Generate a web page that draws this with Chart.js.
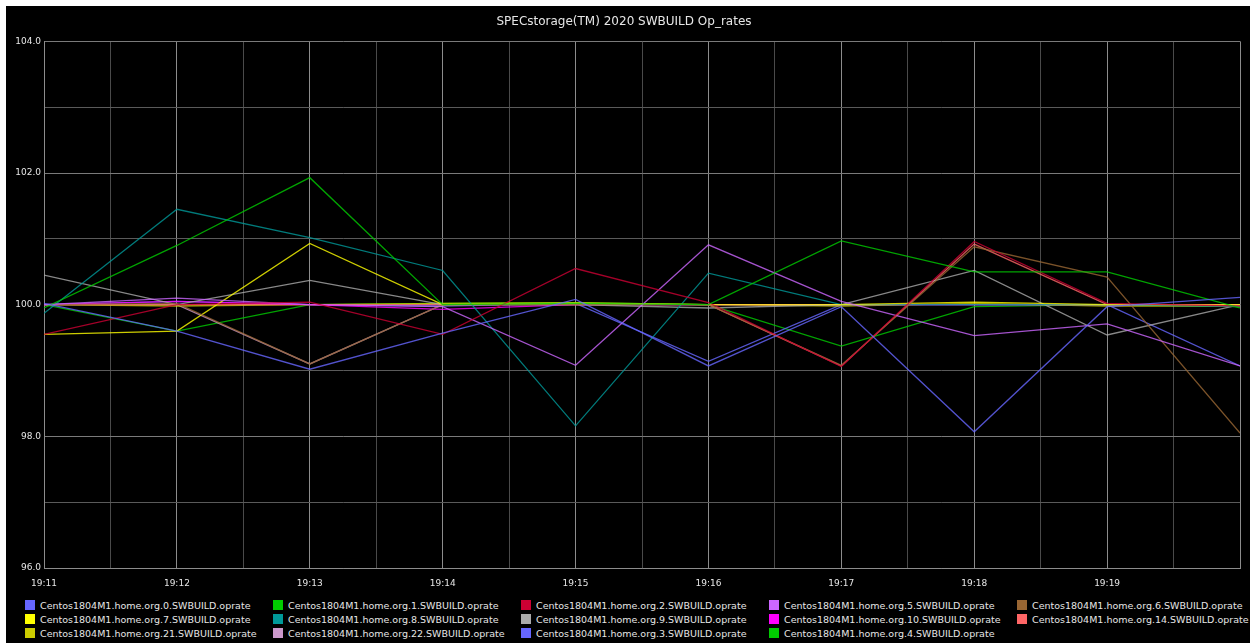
<!DOCTYPE html>
<html>
<head>
<meta charset="utf-8">
<script src="https://cdn.jsdelivr.net/npm/chart.js@4/dist/chart.umd.min.js"></script>
<style>
  body { margin: 0; background: #fff; }
  #frame { position: absolute; left: 6px; top: 6px; width: 1244px; height: 637px; background: #000; }
  #box { position: absolute; left: 0; top: 0; width: 1244px; height: 584px; }
  #legend {
    position: absolute; left: 19px; top: 592px;
    display: grid; grid-template-columns: repeat(5, 248px); grid-auto-rows: 14px;
    font: 9.5px "DejaVu Sans", sans-serif; color: #e6e6e6;
  }
  #legend div { display: flex; align-items: center; white-space: nowrap; }
  #legend span.sw { width: 10px; height: 10px; margin-right: 5px; flex: none; }
</style>
</head>
<body>
<div id="frame">
  <div id="box"><canvas id="myChart"></canvas></div>
  <div id="legend"></div>
</div>
<script>
var title = 'SPECstorage(TM) 2020 SWBUILD Op_rates';
var tickLabels = ['19:11', '19:12', '19:13', '19:14', '19:15', '19:16', '19:17', '19:18', '19:19'];

var names = ['org.0', 'org.1', 'org.2', 'org.5', 'org.6', 'org.7', 'org.8', 'org.9',
             'org.10', 'org.14', 'org.21', 'org.22', 'org.3', 'org.4'];
var colors = ['#6666ff', '#00cc00', '#cc0033', '#cc66ff', '#996633', '#ffff00', '#009999', '#aaaaaa',
              '#ff00ff', '#ff6666', '#cccc00', '#cc99cc', '#6666ff', '#00cc00'];

var org0  = [100.02, 99.6, 99.02, 99.57, 100.08, 99.07, 99.97, 98.07, 99.97, 100.11];
var org1  = [99.95, 100.9, 101.93, 100.0, 100.02, 100.0, 100.97, 100.5, 100.5, 99.95];
var org2  = [99.55, 100.0, 100.04, 99.55, 100.55, 100.03, 99.06, 100.96, 100.02, 99.98];
var org5  = [100.0, 100.1, 100.0, 99.97, 99.08, 100.91, 100.05, 99.53, 99.71, 99.07];
var org6  = [100.0, 100.02, 99.1, 100.0, 100.0, 100.0, 99.08, 100.88, 100.42, 98.05];
var org7  = [99.55, 99.6, 100.93, 100.0, 100.02, 100.0, 100.0, 100.04, 100.0, 100.0];
var org8  = [99.87, 101.45, 101.02, 100.52, 98.16, 100.48, 100.0, 100.0, 100.0, 99.97];
var org9  = [100.45, 100.0, 100.37, 100.0, 100.0, 99.95, 100.0, 100.52, 99.54, 100.0];
var org10 = [100.0, 100.05, 100.0, 99.93, 100.0, 100.0, 100.0, 100.0, 100.0, 100.0];
var org14 = [100.0, 100.0, 100.0, 100.0, 100.0, 100.0, 99.07, 100.92, 100.0, 100.0];
var org21 = [100.0, 99.98, 100.0, 100.02, 100.03, 100.0, 99.98, 100.02, 99.98, 99.98];
var org22 = [100.0, 100.0, 99.1, 100.0, 100.0, 100.0, 100.0, 100.0, 100.0, 100.0];
var org3  = [100.0, 100.05, 100.0, 99.98, 100.02, 99.14, 100.0, 100.0, 100.0, 99.07];
var org4  = [100.0, 99.6, 100.0, 100.02, 100.03, 100.0, 99.37, 99.97, 100.0, 99.97];

var series = [org0, org1, org2, org5, org6, org7, org8, org9, org10, org14, org21, org22, org3, org4];

var datasets = series.map(function (vals, k) {
  return {
    label: 'Centos1804M1.home.' + names[k] + '.SWBUILD.oprate',
    data: vals.map(function (v, i) { return { x: i, y: v }; }),
    borderColor: colors[k] + 'cc',
    backgroundColor: colors[k],
    borderWidth: 1.3,
    pointRadius: 0,
    tension: 0
  };
});

var tickFont = { family: 'DejaVu Sans', size: 9 };

const myChart = new Chart(document.getElementById('myChart'), {
  type: 'line',
  data: { datasets: datasets },
  options: {
    responsive: true,
    maintainAspectRatio: false,
    animation: false,
    layout: { padding: { left: 0, right: 8, top: 0, bottom: 0 } },
    plugins: {
      legend: { display: false },
      tooltip: { enabled: false },
      title: {
        display: true,
        text: title,
        color: '#e6e6e6',
        font: { family: 'DejaVu Sans', size: 12, weight: 'normal' },
        padding: { top: 9, bottom: 12 }
      }
    },
    scales: {
      x: {
        type: 'linear',
        min: 0,
        max: 9,
        afterFit: function (s) { s.height = 22; },
        border: { display: true, color: '#8c8c8c' },
        grid: {
          drawTicks: false,
          color: function (c) { return Number.isInteger(c.tick.value) ? '#8c8c8c' : '#4a4a4a'; }
        },
        ticks: {
          stepSize: 0.5,
          autoSkip: false,
          maxRotation: 0,
          padding: 10,
          color: '#e6e6e6',
          font: tickFont,
          callback: function (v) { return Number.isInteger(v) && tickLabels[v] ? tickLabels[v] : ''; }
        }
      },
      y: {
        min: 96,
        max: 104,
        afterFit: function (s) { s.width = 38; },
        border: { display: true, color: '#8c8c8c' },
        grid: {
          drawTicks: false,
          color: function (c) { return c.tick.value % 2 === 0 ? '#7a7a7a' : '#5a5a5a'; }
        },
        ticks: {
          stepSize: 1,
          padding: 3,
          color: '#e6e6e6',
          font: tickFont,
          callback: function (v) { return v % 2 === 0 ? v.toFixed(1) : ''; }
        }
      }
    }
  }
});

// legend in five columns, like the original
var legendEl = document.getElementById('legend');
datasets.forEach(function (ds) {
  var item = document.createElement('div');
  var sw = document.createElement('span');
  sw.className = 'sw';
  sw.style.background = ds.backgroundColor;
  item.appendChild(sw);
  item.appendChild(document.createTextNode(ds.label));
  legendEl.appendChild(item);
});
</script>
</body>
</html>
